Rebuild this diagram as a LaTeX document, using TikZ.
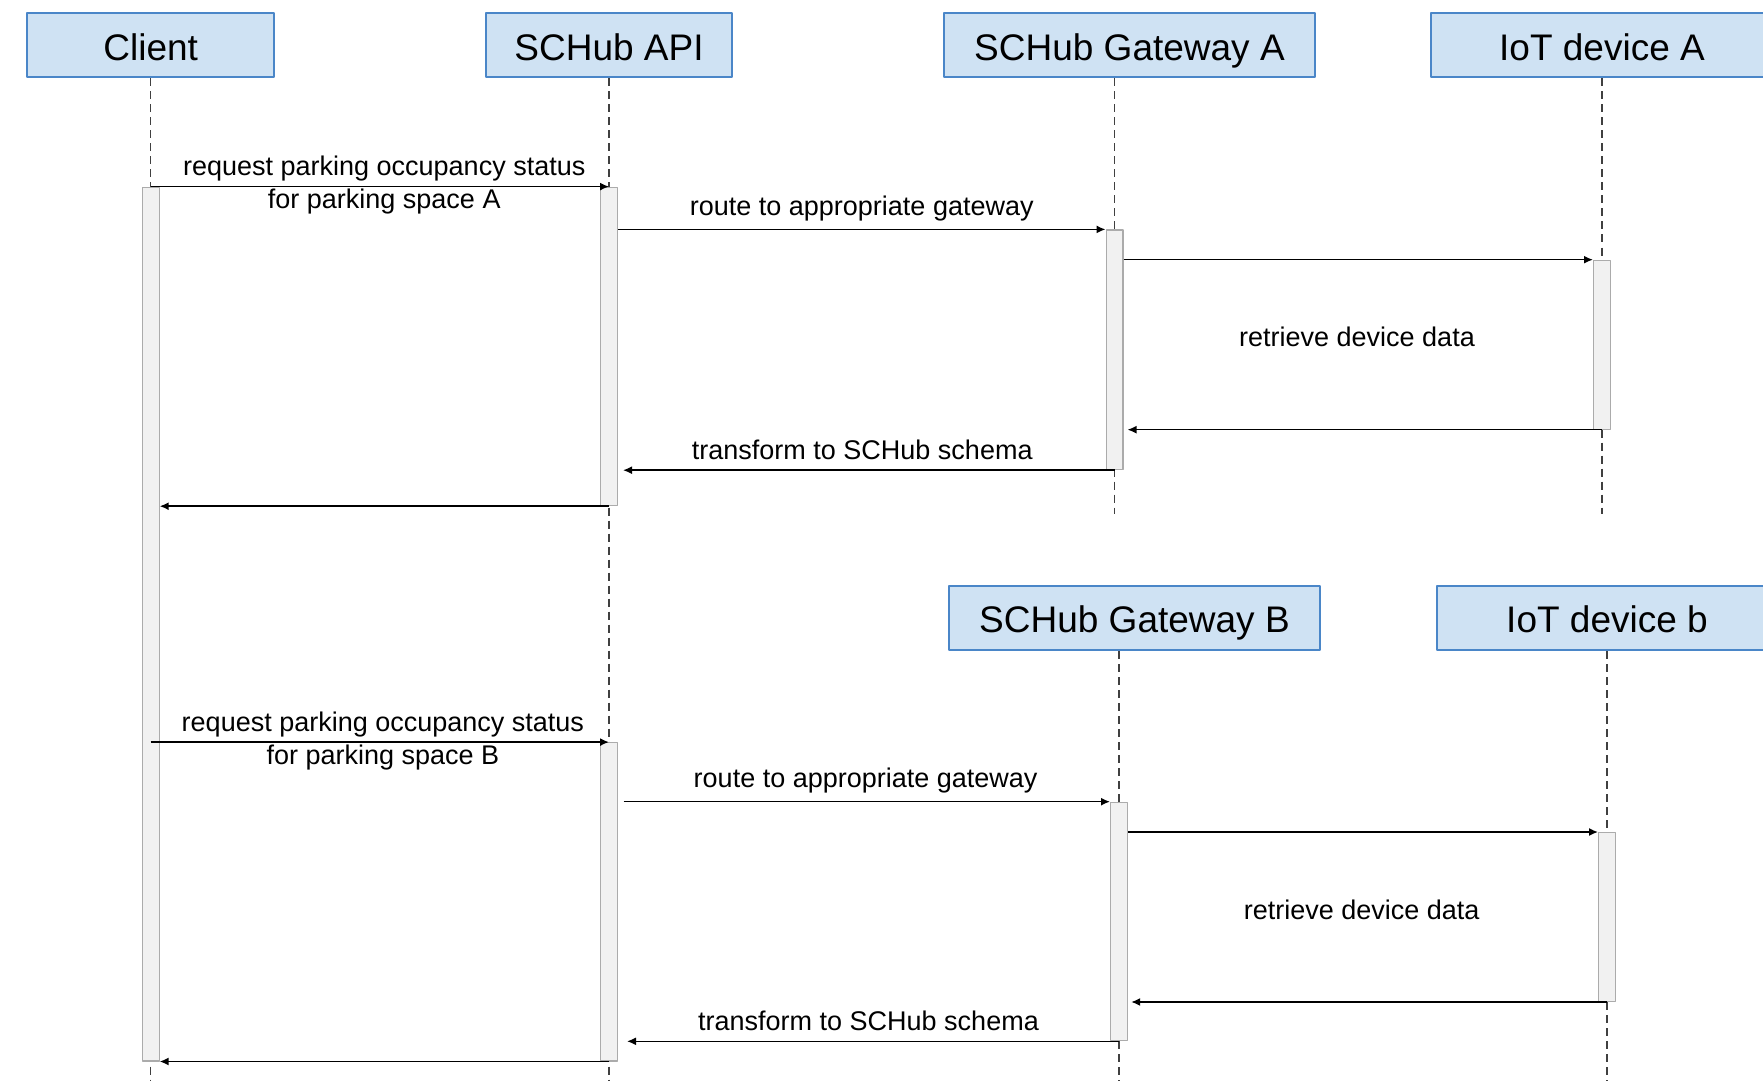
\documentclass[tikz,border=0pt]{standalone}
\usepackage{fontspec}
\setmainfont{Liberation Sans}
\usetikzlibrary{arrows.meta}
\definecolor{actfill}{HTML}{CFE2F3}
\definecolor{actline}{HTML}{4A86C8}
\definecolor{barfill}{HTML}{F1F1F1}
\definecolor{barline}{HTML}{ABABAB}
\begin{document}
\begin{tikzpicture}[x=0.5pt,y=-0.5pt,line join=round,>={Latex[length=4.5pt,width=4pt]},
 font=\fontsize{13.5}{16}\selectfont,
 actor/.style={draw=actline,fill=actfill,line width=1pt,minimum height=32pt,inner sep=0pt,
  text height=17pt,text depth=2.2pt,font=\fontsize{18.5}{22}\selectfont},
 life/.style={draw=black!75,line width=0.6pt,dash pattern=on 4pt off 2.5pt},
 bar/.style={draw=barline,fill=barfill,line width=0.6pt,minimum width=8.4pt,inner sep=0pt,anchor=north},
 msg/.style={->,line width=0.75pt},
 lbl/.style={inner sep=0pt}]
 \useasboundingbox (0,0) rectangle (1763,1081);
 \clip (0,0) rectangle (1763,1081);
 % participants
 \node[actor,minimum width=123.7pt] (client) at (150.7,45.5) {Client};
 \node[actor,minimum width=123pt] (api) at (609,45.5) {SCHub API};
 \node[actor,minimum width=185.5pt] (gwA) at (1129.5,45.5) {SCHub Gateway A};
 \node[actor,minimum width=171pt] (devA) at (1602,45.5) {IoT device A};
 \node[actor,minimum width=185.5pt] (gwB) at (1134.5,618) {SCHub Gateway B};
 \node[actor,minimum width=170pt] (devB) at (1607,618) {IoT device b};
 % lifelines
 \draw[life] (client.south) -- ++(0,1004);
 \draw[life] (api.south) -- ++(0,1004);
 \draw[life] ([xshift=-7.5pt]gwA.south) -- ++(0,435);
 \draw[life] (devA.south) -- ++(0,435);
 \draw[life] ([xshift=-7.75pt]gwB.south) -- ++(0,431);
 \draw[life] (devB.south) -- ++(0,431);
 % activations
 \node[bar,minimum height=436.9pt] (clientBar) at (150.7,186.6) {};
 \node[bar,minimum height=159.2pt] (apiBarA) at (609,186.6) {};
 \node[bar,minimum height=119.8pt] (gwBarA) at (1114.5,229.4) {};
 \node[bar,minimum height=84.4pt] (devBarA) at (1602,259.7) {};
 \node[bar,minimum height=159.1pt] (apiBarB) at (609,742.1) {};
 \node[bar,minimum height=119.2pt] (gwBarB) at (1119,801.7) {};
 \node[bar,minimum height=84.4pt] (devBarB) at (1607,832) {};
 % space A
 \draw[msg] (clientBar.north) -- (apiBarA.north)
  node[lbl,midway,xshift=2.2pt,yshift=9.2pt] {request parking occupancy status}
  node[lbl,midway,xshift=2.2pt,yshift=-7.3pt] {for parking space A};
 \draw[msg] (apiBarA.east |- gwBarA.north) -- (gwBarA.north west)
  node[lbl,midway,yshift=10.3pt] {route to appropriate gateway};
 \draw[msg] (gwBarA.east |- devBarA.north) -- (devBarA.north west);
 \node (retrA) at (1357,337.3) {retrieve device data};
 \draw[msg,shorten >=2pt] (devBarA.south) -- (gwBarA.east |- devBarA.south);
 \draw[msg,shorten >=2.5pt] (gwBarA.south) -- (apiBarA.east |- gwBarA.south)
  node[lbl,midway,xshift=-2pt,yshift=10.2pt] {transform to SCHub schema};
 \draw[msg] (apiBarA.south) -- (clientBar.east |- apiBarA.south);
 % space B
 \draw[msg] (clientBar |- apiBarB.north) -- (apiBarB.north)
  node[lbl,midway,xshift=1.5pt,yshift=8.8pt] {request parking occupancy status}
  node[lbl,midway,xshift=1.5pt,yshift=-7.7pt] {for parking space B};
 \draw[msg,shorten <=2.8pt] (apiBarB.east |- gwBarB.north) -- (gwBarB.north west)
  node[lbl,midway,xshift=0.8pt,yshift=10.8pt] {route to appropriate gateway};
 \draw[msg] (gwBarB.east |- devBarB.north) -- (devBarB.north west);
 \node (retrB) at (1361.6,909.6) {retrieve device data};
 \draw[msg,shorten >=1.6pt] (devBarB.south) -- (gwBarB.east |- devBarB.south);
 \draw[msg,shorten >=4.5pt] (gwBarB.south) -- (apiBarB.east |- gwBarB.south)
  node[lbl,midway,yshift=10pt] {transform to SCHub schema};
 \draw[msg] (apiBarB.south) -- (clientBar.east |- apiBarB.south);
\end{tikzpicture}
\end{document}
